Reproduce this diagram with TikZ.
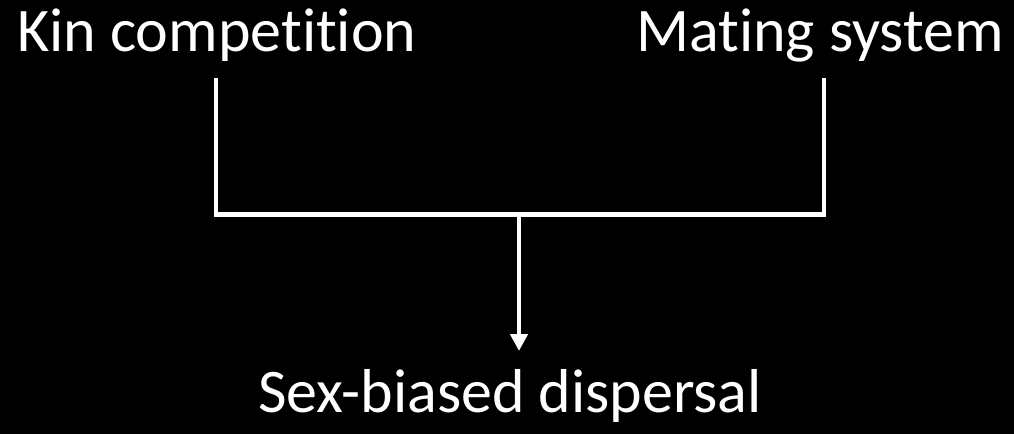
\documentclass[tikz,border=0pt]{standalone}
\usepackage{fontspec}
\setmainfont[Ligatures=NoCommon]{Carlito}
\usetikzlibrary{arrows.meta,calc}
\begin{document}
\begin{tikzpicture}[x=1pt,y=-1pt,
  label/.style={text=white,inner sep=0pt,font=\fontsize{62}{70}\selectfont},
  link/.style={draw=white,line width=4.6pt},
  arrowlink/.style={link,-{Triangle[width=17pt,length=17pt]}}]
  \fill[black] (0,0) rectangle (1014,434);
  \useasboundingbox (0,0) rectangle (1014,434);
  % factor labels
  \node[label,anchor=base west] (kin) at (17,51) {Kin competition};
  \node[label,anchor=base east] (mating) at (1004,51) {Mating system};
  \node[label,anchor=base west] (disp) at (258,412) {Sex-biased dispersal};
  % bracket joining the two factors
  \coordinate (kintop) at (216,78);
  \coordinate (mattop) at (824,78);
  \coordinate (join) at (519,214.5);
  \coordinate (tip) at (519,351);
  \draw[link,line join=miter] (kintop) |- (join) -| (mattop);
  \draw[arrowlink] (join) -- (tip);
\end{tikzpicture}
\end{document}
